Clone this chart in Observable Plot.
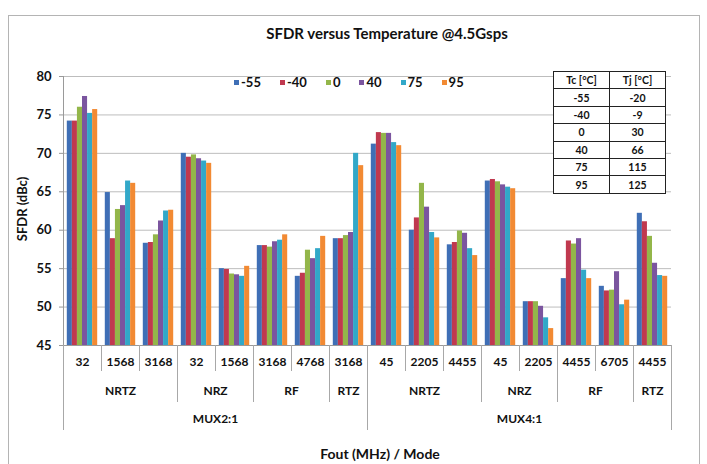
<!DOCTYPE html>
<html>
<head>
<meta charset="utf-8">
<script src="https://cdn.jsdelivr.net/npm/d3@7"></script>
<script src="https://cdn.jsdelivr.net/npm/@observablehq/plot@0.6"></script>
<style>
  html, body { margin: 0; padding: 0; background: #fff; }
  #wrap { position: relative; width: 707px; height: 464px; overflow: hidden; font-family: Lato, "Open Sans", sans-serif; }
  #frame { position: absolute; left: 8px; top: 15px; width: 692px; height: 460px; border: 1px solid #b4b4b4; box-sizing: border-box; }
  #chart { position: absolute; left: 0; top: 0; }
  #title { position: absolute; left: 387px; top: 24px; transform: translateX(-50%); font-weight: bold; font-size: 15px; white-space: nowrap; color: #111; }
  #ytitle { position: absolute; left: 22px; top: 209px; transform: translate(-50%, -50%) rotate(-90deg); font-weight: bold; font-size: 13px; white-space: nowrap; color: #111; }
  #xtitle { position: absolute; left: 380px; top: 445px; transform: translateX(-50%); font-weight: bold; font-size: 14px; white-space: nowrap; color: #111; }
  #legend { position: absolute; left: 234px; top: 74px; display: flex; align-items: center; font-weight: bold; font-size: 13px; color: #111; }
  #legend .item { display: flex; align-items: center; margin-right: 19px; }
  #legend .sw { width: 5px; height: 5px; margin-right: 2px; }
  #tbl { position: absolute; left: 553px; top: 71px; border-collapse: collapse; background: #fff; font-size: 10.5px; font-weight: bold; color: #111; }
  #tbl td { border: 1px solid #222; width: 55px; height: 16.4px; padding: 0; text-align: center; line-height: 10px; }
  #tbl { border: 1.5px solid #111; }
  #chart svg g[aria-label^="y-axis"] line, #chart svg g[aria-label^="y-axis"] path { stroke: #999; }
</style>
</head>
<body>
<div id="wrap">
  <div id="frame"></div>
  <div id="chart"></div>
  <div id="title">SFDR versus Temperature @4.5Gsps</div>
  <div id="ytitle">SFDR (dBc)</div>
  <div id="xtitle">Fout (MHz) / Mode</div>
  <div id="legend"></div>
  <table id="tbl"></table>
</div>
<script>
// ---- data ----
const fout = ["32","1568","3168","32","1568","3168","4768","3168","45","2205","4455","45","2205","4455","6705","4455"];
const mode = ["NRTZ","NRTZ","NRTZ","NRZ","NRZ","RF","RF","RTZ","NRTZ","NRTZ","NRTZ","NRZ","NRZ","RF","RF","RTZ"];
const mux  = ["MUX2:1","MUX2:1","MUX2:1","MUX2:1","MUX2:1","MUX2:1","MUX2:1","MUX2:1","MUX4:1","MUX4:1","MUX4:1","MUX4:1","MUX4:1","MUX4:1","MUX4:1","MUX4:1"];
const temps = ["-55","-40","0","40","75","95"];
const tjTemps = ["-20","-9","30","66","115","125"];
const sM55 = [74.2, 64.9, 58.3, 70.0, 55.0, 58.0, 54.0, 58.9, 71.2, 60.0, 58.1, 66.4, 50.7, 53.7, 52.7, 62.2];
const sM40 = [74.2, 58.9, 58.4, 69.5, 54.9, 58.0, 54.4, 58.9, 72.7, 61.6, 58.4, 66.6, 50.7, 58.6, 52.1, 61.1];
const s0   = [76.0, 62.7, 59.4, 69.8, 54.3, 57.8, 57.4, 59.3, 72.6, 66.1, 59.9, 66.3, 50.7, 58.2, 52.2, 59.2];
const s40  = [77.4, 63.2, 61.2, 69.3, 54.2, 58.5, 56.3, 59.7, 72.6, 63.0, 59.6, 65.9, 50.1, 58.9, 54.6, 55.7];
const s75  = [75.2, 66.4, 62.5, 69.0, 54.0, 58.7, 57.6, 70.0, 71.4, 59.7, 57.6, 65.6, 48.6, 54.8, 50.3, 54.1];
const s95  = [75.7, 66.1, 62.6, 68.7, 55.3, 59.4, 59.2, 68.4, 71.0, 59.0, 56.7, 65.4, 47.2, 53.7, 50.9, 54.0];
const series = [sM55, sM40, s0, s40, s75, s95];
const yTicks = [45, 50, 55, 60, 65, 70, 75, 80];
const colors = ["#3f6fb6", "#c0394f", "#93b64a", "#7b559f", "#32a8c8", "#f28a33"];

// ---- layout/style constants ----
const W = 707, H = 464, mL = 63, mR = 36, mT = 76, mB = 119;
const plotH = H - mT - mB;
const yMin = yTicks[0], yMax = yTicks[yTicks.length - 1];
const n = fout.length;
const pad = 0.1, bw = (1 - 2 * pad) / temps.length;

const rows = [];
series.forEach((vals, s) => vals.forEach((v, g) => rows.push({g, s, t: temps[s], v})));

// spans of modes and mux groups
function spans(keyFn) {
  const out = [];
  let start = 0;
  for (let i = 1; i <= n; i++) {
    if (i === n || keyFn(i) !== keyFn(start)) { out.push({start, end: i, i: start}); start = i; }
  }
  return out;
}
const modeSpans = spans(i => mux[i] + "|" + mode[i]);
const muxSpans = spans(i => mux[i]);
const muxB = new Set(muxSpans.flatMap(d => [d.start, d.end]));
const modeB = new Set(modeSpans.flatMap(d => [d.start, d.end]));
const bounds = d3.range(n + 1);
const b1 = bounds.filter(b => !modeB.has(b));
const b2 = bounds.filter(b => modeB.has(b) && !muxB.has(b));
const b3 = bounds.filter(b => muxB.has(b));

const chart = Plot.plot({
  width: W, height: H,
  marginLeft: mL, marginRight: mR, marginTop: mT, marginBottom: mB,
  style: {fontFamily: "Lato, 'Open Sans', sans-serif", fontSize: "13px", fontWeight: "bold", background: "transparent", color: "#111", overflow: "visible"},
  x: {type: "linear", domain: [0, n], axis: null},
  y: {domain: [yMin, yMax], ticks: yTicks, tickSize: 4, tickPadding: 8, label: null},
  color: {domain: temps, range: colors},
  marks: [
    Plot.ruleY(yTicks, {stroke: "#bdbdbd", strokeWidth: 1}),
    Plot.rect(rows, {x1: d => d.g + pad + d.s * bw, x2: d => d.g + pad + (d.s + 1) * bw, y1: yMin, y2: "v", fill: "t"}),
    Plot.ruleX([0], {stroke: "#9a9a9a"}),
    Plot.ruleY([yMin], {stroke: "#9a9a9a"}),
    Plot.ruleX(b1, {stroke: "#a8a8a8", insetTop: plotH, insetBottom: -26}),
    Plot.ruleX(b2, {stroke: "#a8a8a8", insetTop: plotH, insetBottom: -57}),
    Plot.ruleX(b3, {stroke: "#a8a8a8", insetTop: plotH, insetBottom: -85}),
    Plot.text(d3.range(n), {x: i => i + 0.5, text: i => fout[i], frameAnchor: "bottom", dy: 20, fontSize: 12, fontWeight: "bold", fill: "#111"}),
    Plot.text(modeSpans, {x: d => (d.start + d.end) / 2, text: d => mode[d.i], frameAnchor: "bottom", dy: 49, fontSize: 12, fontWeight: "bold", fill: "#111"}),
    Plot.text(muxSpans, {x: d => (d.start + d.end) / 2, text: d => mux[d.i], frameAnchor: "bottom", dy: 77, fontSize: 12, fontWeight: "bold", fill: "#111"})
  ]
});
document.getElementById("chart").appendChild(chart);

// legend
const leg = document.getElementById("legend");
temps.forEach((t, i) => {
  const it = document.createElement("div");
  it.className = "item";
  it.innerHTML = `<span class="sw" style="background:${colors[i]}"></span><span>${t}</span>`;
  leg.appendChild(it);
});

// table
const tbl = document.getElementById("tbl");
const hdr = document.createElement("tr");
hdr.innerHTML = "<td>Tc [°C]</td><td>Tj [°C]</td>";
tbl.appendChild(hdr);
temps.forEach((t, i) => {
  const tr = document.createElement("tr");
  tr.innerHTML = `<td>${t}</td><td>${tjTemps[i]}</td>`;
  tbl.appendChild(tr);
});
</script>
</body>
</html>
